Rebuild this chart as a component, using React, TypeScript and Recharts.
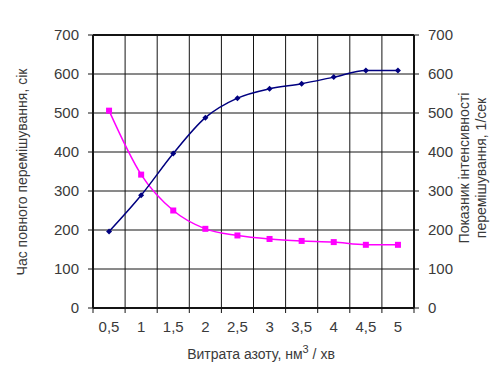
import React from 'react';
import { LineChart, Line, XAxis, YAxis, CartesianGrid, ReferenceLine } from 'recharts';

const flowRates = [0.5, 1, 1.5, 2, 2.5, 3, 3.5, 4, 4.5, 5];
const flowLabels = ['0,5', '1', '1,5', '2', '2,5', '3', '3,5', '4', '4,5', '5'];
const mixingTime = [506, 342, 250, 203, 186, 177, 172, 169, 162, 162];
const mixingIntensity = [196, 289, 396, 488, 538, 562, 575, 592, 609, 609];
const bandEdges = [0.25, 0.75, 1.25, 1.75, 2.25, 2.75, 3.25, 3.75, 4.25, 4.75, 5.25];
const yTicks = [0, 100, 200, 300, 400, 500, 600, 700];

const data = flowRates.map((x, i) => ({
  x,
  label: flowLabels[i],
  time: mixingTime[i],
  intensity: mixingIntensity[i],
}));

const FONT = '"Liberation Sans", Arial, sans-serif';
const TEXT = '#3a3a3a';
const LINE = '#141414';

const xTickValues = [...bandEdges, ...flowRates];

const XTick = (props: any) => {
  const { x, y, payload } = props;
  const v = payload.value as number;
  const idx = flowRates.indexOf(v);
  if (idx < 0) {
    return <line x1={x} x2={x} y1={y} y2={y + 5} stroke={LINE} strokeWidth={1} />;
  }
  return (
    <text x={x} y={y + 20} textAnchor="middle" dominantBaseline="middle" fontSize={15} fill={TEXT} fontFamily={FONT}>
      {flowLabels[idx]}
    </text>
  );
};

const Diamond = (props: any) => {
  const { cx, cy } = props;
  if (cx == null || cy == null) return null;
  const r = 3;
  return <path d={`M${cx},${cy - r}L${cx + r},${cy}L${cx},${cy + r}L${cx - r},${cy}Z`} fill="#000080" />;
};

const Square = (props: any) => {
  const { cx, cy } = props;
  if (cx == null || cy == null) return null;
  const s = 3;
  return <rect x={cx - s} y={cy - s} width={2 * s} height={2 * s} fill="#ff00ff" />;
};

export default function App() {
  return (
    <div style={{ position: 'absolute', left: 0, top: 0, width: 495, height: 374, background: '#fff' }}>
      <LineChart width={495} height={374} data={data} margin={{ top: 34, right: 0, bottom: 0, left: 0 }}>
        <CartesianGrid
          yAxisId="left"
          stroke={LINE}
          strokeWidth={1}
          horizontalValues={yTicks}
          verticalValues={bandEdges}
        />
        <XAxis
          dataKey="x"
          type="number"
          domain={[0.25, 5.25]}
          ticks={xTickValues}
          interval={0}
          tick={XTick}
          tickLine={false}
          tickSize={0}
          tickMargin={0}
          height={66}
          axisLine={{ stroke: LINE, strokeWidth: 2 }}
        />
        <XAxis
          xAxisId="top"
          orientation="top"
          dataKey="x"
          type="number"
          domain={[0.25, 5.25]}
          height={1}
          tick={false}
          tickLine={false}
          axisLine={{ stroke: LINE, strokeWidth: 2 }}
        />
        <YAxis
          yAxisId="left"
          orientation="left"
          type="number"
          domain={[0, 700]}
          ticks={yTicks}
          interval={0}
          width={93}
          tickSize={5}
          tickMargin={9}
          tick={{ fontSize: 15, fill: TEXT, fontFamily: FONT }}
          tickLine={{ stroke: LINE }}
          axisLine={{ stroke: LINE, strokeWidth: 2 }}
        />
        <YAxis
          yAxisId="right"
          orientation="right"
          type="number"
          domain={[0, 700]}
          ticks={yTicks}
          interval={0}
          width={81}
          tickSize={5}
          tickMargin={9}
          tick={{ fontSize: 15, fill: TEXT, fontFamily: FONT }}
          tickLine={{ stroke: LINE }}
          axisLine={{ stroke: LINE, strokeWidth: 2 }}
        />
        <ReferenceLine yAxisId="left" y={700} stroke={LINE} strokeWidth={2} />
        <ReferenceLine yAxisId="left" x={0.25} stroke={LINE} strokeWidth={2} />
        <Line
          yAxisId="left"
          dataKey="time"
          type="monotone"
          stroke="#ff00ff"
          strokeWidth={1.5}
          dot={<Square />}
          activeDot={false}
          isAnimationActive={false}
        />
        <Line
          yAxisId="right"
          dataKey="intensity"
          type="monotone"
          stroke="#000080"
          strokeWidth={1.5}
          dot={<Diamond />}
          activeDot={false}
          isAnimationActive={false}
        />
      </LineChart>
      <svg
        width={495}
        height={374}
        style={{ position: 'absolute', left: 0, top: 0, pointerEvents: 'none' }}
      >
        <text x={261} y={355} textAnchor="middle" dominantBaseline="middle" fontSize={14} fill={TEXT} fontFamily={FONT}>
          Витрата азоту, нм
          <tspan dy={-5} fontSize={11}>3</tspan>
          <tspan dy={5} fontSize={14}> / хв</tspan>
        </text>
        <text x={23} y={172} transform="rotate(-90 23 172)" textAnchor="middle" dominantBaseline="middle" fontSize={14} fill={TEXT} fontFamily={FONT}>
          Час повного перемішування, сік
        </text>
        <text x={465} y={168} transform="rotate(-90 465 168)" textAnchor="middle" dominantBaseline="middle" fontSize={14} fill={TEXT} fontFamily={FONT}>
          Показник інтенсивності
        </text>
        <text x={482} y={168} transform="rotate(-90 482 168)" textAnchor="middle" dominantBaseline="middle" fontSize={14} fill={TEXT} fontFamily={FONT}>
          перемішування, 1/сек
        </text>
      </svg>
    </div>
  );
}
